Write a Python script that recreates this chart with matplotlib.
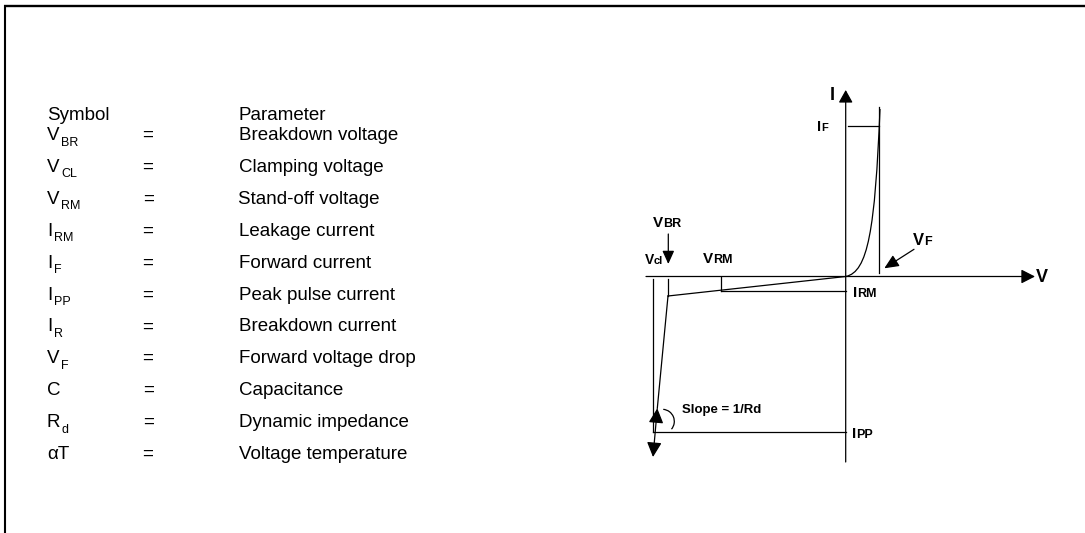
import matplotlib
matplotlib.use("Agg")
import matplotlib.pyplot as plt
from matplotlib.patches import FancyArrowPatch, PathPatch, Arc
from matplotlib.path import Path

plt.rcParams['font.family'] = ['Liberation Sans', 'DejaVu Sans']

#------------------------------- table data
header_symbol = 'Symbol'
header_param = 'Parameter'
sym_main = ['V', 'V', 'V', 'I', 'I', 'I', 'I', 'V', 'C', 'R', 'αT']
sym_sub = ['BR', 'CL', 'RM', 'RM', 'F', 'PP', 'R', 'F', '', 'd', '']
params = ['Breakdown voltage', 'Clamping voltage', 'Stand-off voltage',
          'Leakage current', 'Forward current', 'Peak pulse current',
          'Breakdown current', 'Forward voltage drop', 'Capacitance',
          'Dynamic impedance', 'Voltage temperature']
eq_shift = [0, 0, 1.5, 0, 0, 0, 0, 0, 1.5, 1.5, 0]
par_shift = [0, 0, -1, 0, 0, 0, 0, 0, 0, 0, 0]

#------------------------------- diagram (pixel coords of the schematic)
origin = (845.7, 276.5)
i_axis_bottom = 462
i_axis_tip = 90
v_axis_left = 646
v_axis_tip = 1035
# plain segments: (x0, y0, x1, y1)
segments = [
    (879.3, 107.3, 879.3, 273.3),   # V_F marker
    (848.0, 125.7, 879.3, 125.7),   # I_F level
    (720.7, 276.5, 720.7, 291.0),   # V_RM marker
    (720.7, 291.0, 845.7, 291.0),   # I_RM level
    (845.7, 276.5, 668.0, 296.0),   # leakage slope
    (668.3, 279.0, 668.3, 296.0),   # V_BR marker
    (653.3, 279.3, 653.3, 432.3),   # V_CL marker
    (653.3, 432.3, 845.7, 432.3),   # I_PP level
    (668.0, 296.0, 657.3, 408.3),   # breakdown slope
]
# forward curve as a cubic bezier
fwd_curve = [(845.7, 276.5), (868, 272), (875, 230), (880, 109)]
# arc marking the slope
arc_center = (662.2, 421.4)
arc_radius = 12.1
arc_angles = (-85, 40)

#------------------------------- figure
fig = plt.figure(figsize=(10.85, 5.33), dpi=100)
ax = fig.add_axes([0, 0, 1, 1])
ax.set_xlim(0, 1085)
ax.set_ylim(533, 0)
ax.axis('off')

# frame (cut off at top and left)
ax.plot([4, 1085], [6.2, 6.2], color='black', lw=1.7, solid_capstyle='butt')
ax.plot([4.8, 4.8], [5, 533], color='black', lw=1.5, solid_capstyle='butt')

#------------------------------- table
x_sym, x_eq, x_par = 47, 142, 239
y_head = 120.5
y_first = 140
pitch = 31.9
fs = 13.5
fs_sub = 9

ax.text(x_sym, y_head, header_symbol, fontsize=fs, va='baseline', ha='left')
ax.text(x_par, y_head, header_param, fontsize=fs, va='baseline', ha='left')

for i in range(len(sym_main)):
    yb = y_first + i * pitch
    t = ax.text(x_sym, yb, sym_main[i], fontsize=fs, va='baseline', ha='left')
    if sym_sub[i]:
        ax.annotate(sym_sub[i], xy=(1, yb + 5.5), xycoords=(t, 'data'),
                    xytext=(1, 0), textcoords='offset points',
                    fontsize=fs_sub, va='baseline', ha='left')
    ax.text(x_eq + eq_shift[i], yb, '=', fontsize=fs, va='baseline', ha='left')
    ax.text(x_par + par_shift[i], yb, params[i], fontsize=fs, va='baseline', ha='left')

#------------------------------- schematic
lc = 'black'
lw = 0.9

def arrow(p0, p1, hl, hw, style='-|>'):
    a = FancyArrowPatch(p0, p1, arrowstyle=f'{style},head_length={hl},head_width={hw}',
                        mutation_scale=1, lw=lw, color=lc, shrinkA=0, shrinkB=0)
    ax.add_patch(a)

arrow((origin[0], i_axis_bottom), (origin[0], i_axis_tip), 7.7, 4.3)
arrow((v_axis_left, origin[1]), (v_axis_tip, origin[1]), 8.4, 4.3)
arrow((668.3, 234), (668.3, 264), 8, 3.6)            # V_BR pointer
arrow((914, 249.3), (884.3, 268.3), 8.7, 3.9)        # V_F pointer
arrow((653.0, 457), (657.3, 408.3), 9, 4.5, '<|-|>')  # slope double arrow

for x0, y0, x1, y1 in segments:
    ax.plot([x0, x1], [y0, y1], color=lc, lw=lw)

path = Path(fwd_curve, [Path.MOVETO, Path.CURVE4, Path.CURVE4, Path.CURVE4])
ax.add_patch(PathPatch(path, fill=False, lw=lw, color=lc))

ax.add_patch(Arc(arc_center, 2 * arc_radius, 2 * arc_radius,
                 theta1=arc_angles[0], theta2=arc_angles[1], lw=lw, color=lc))

def label(x, yb, big, small, s_big, s_small):
    t = ax.text(x, yb, big, fontsize=s_big, fontweight='bold', va='baseline', ha='left')
    if small:
        ax.annotate(small, xy=(1, yb), xycoords=(t, 'data'), fontsize=s_small,
                    fontweight='bold', va='baseline', ha='left')

label(829.5, 100, 'I', '', 13, 0)
label(1036, 281.7, 'V', '', 13, 0)
label(817.5, 130.7, 'I', 'F', 10.5, 8)
label(652.5, 226.7, 'V', 'BR', 11, 9)
label(644.5, 264, 'V', 'cl', 10, 8)
label(703, 263.3, 'V', 'RM', 11, 9)
label(913.3, 245, 'V', 'F', 12, 9)
label(852.5, 297.3, 'I', 'RM', 11, 9)
label(852.3, 438.3, 'I', 'PP', 11, 9)
ax.text(681.7, 413.3, 'Slope = 1/Rd', fontsize=9.5, fontweight='bold',
        va='baseline', ha='left')

fig.savefig('out.png', dpi=100)
